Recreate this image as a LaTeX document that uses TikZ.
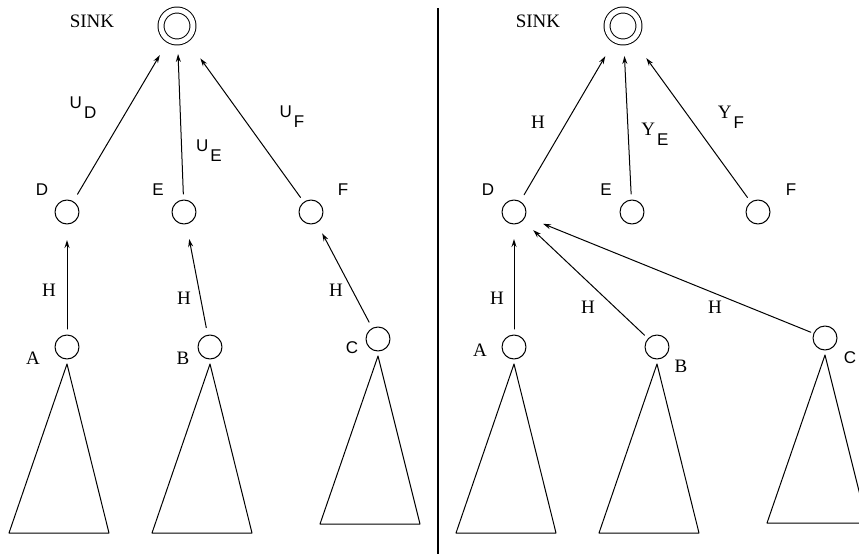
\documentclass[tikz,border=0pt]{standalone}
\usepackage{fontspec}
\setmainfont{Liberation Serif}
\setsansfont{Liberation Sans}
\usetikzlibrary{arrows.meta}
\tikzset{
  every picture/.style={line join=round, line cap=round, >={Stealth[open,length=8pt,width=5pt]}},
  vertex/.style={draw, circle, minimum size=24pt, inner sep=0pt, outer sep=0pt, line width=1pt},
  sinknode/.style={draw, circle, double, double distance=5pt, minimum size=32pt, inner sep=0pt, outer sep=0pt, line width=1pt},
  edge/.style={->, line width=1pt},
  tree/.style={line width=1pt},
  rmlabel/.style={inner sep=0pt, font=\fontsize{19}{19}\selectfont},
  sflabel/.style={inner sep=0pt, font=\sffamily\fontsize{17}{17}\selectfont},
}
\newcommand{\low}[1]{\hspace{2pt}\raisebox{-10pt}{\sffamily\fontsize{17}{17}\selectfont #1}}

\begin{document}
\begin{tikzpicture}[x=1pt,y=-1pt]
\useasboundingbox (0,0) rectangle (859,554);

% left tree
\node[sinknode] (sinkL) at (177,26) {};
\node[vertex] (dL) at (67,212) {};
\node[vertex] (eL) at (184,212) {};
\node[vertex] (fL) at (311,212) {};
\node[vertex] (aL) at (67,347) {};
\node[vertex] (bL) at (210,347) {};
\node[vertex] (cL) at (378,339) {};

\node[rmlabel] (sinkLlab) at (92,21) {SINK};
\node[sflabel] (dLlab) at (42,190) {D};
\node[sflabel] (eLlab) at (158,190) {E};
\node[sflabel] (fLlab) at (343,190) {F};
\node[rmlabel] (aLlab) at (33,358) {A};
\node[rmlabel] (bLlab) at (183,358) {B};
\node[sflabel] (cLlab) at (352,348) {C};

\draw[edge, shorten <=8.6pt, shorten >=17.8pt] (dL) -- (sinkL);
\draw[edge, shorten <=6pt, shorten >=12pt] (eL) -- (sinkL);
\draw[edge, shorten <=6pt, shorten >=24pt] (fL) -- (sinkL);
\draw[edge, shorten <=6pt, shorten >=16pt] (aL) -- (dL);
\draw[edge, shorten <=7.7pt, shorten >=15.5pt] (bL) -- (eL);
\draw[edge, shorten <=7pt, shorten >=12pt] (cL) -- (fL);

\node[sflabel] (udL) at (83,108) {U\low{D}};
\node[sflabel] (ueL) at (209,151) {U\low{E}};
\node[sflabel] (ufL) at (292,117) {U\low{F}};
\node[rmlabel] (hadL) at (49,290) {H};
\node[rmlabel] (hbeL) at (184,298) {H};
\node[rmlabel] (hcfL) at (336,290) {H};

\draw[tree] ([yshift=-17pt]aL.center) -- ++(-58,169) -- ++(100,0) -- cycle;
\draw[tree] ([yshift=-17pt]bL.center) -- ++(-58,169) -- ++(100,0) -- cycle;
\draw[tree] ([yshift=-17pt]cL.center) -- ++(-58,168) -- ++(100,0) -- cycle;

% divider
\draw[line width=2pt, line cap=butt] (438,8) -- (438,554);

% right tree
\node[sinknode] (sinkR) at (623,26) {};
\node[vertex] (dR) at (514,212) {};
\node[vertex] (eR) at (632,212) {};
\node[vertex] (fR) at (758,212) {};
\node[vertex] (aR) at (514,347) {};
\node[vertex] (bR) at (657,347) {};
\node[vertex] (cR) at (825,338) {};

\node[rmlabel] (sinkRlab) at (538,21) {SINK};
\node[sflabel] (dRlab) at (488,190) {D};
\node[sflabel] (eRlab) at (606,190) {E};
\node[sflabel] (fRlab) at (791,190) {F};
\node[rmlabel] (aRlab) at (480,350) {A};
\node[rmlabel] (bRlab) at (681,366) {B};
\node[sflabel] (cRlab) at (850,358) {C};

\draw[edge, shorten <=8pt, shorten >=19pt] (dR) -- (sinkR);
\draw[edge, shorten <=6pt, shorten >=14pt] (eR) -- (sinkR);
\draw[edge, shorten <=6pt, shorten >=23.6pt] (fR) -- (sinkR);
\draw[edge, shorten <=6pt, shorten >=15pt] (aR) -- (dR);
\draw[edge, shorten <=5.2pt, shorten >=14.4pt] (bR) -- (dR);
\draw[edge, shorten <=3.3pt, shorten >=19.3pt] (cR) -- (dR);

\node[rmlabel] (hdR) at (538,122) {H};
\node[rmlabel] (yeR) at (655,134) {Y\low{E}};
\node[rmlabel] (yfR) at (731,117) {Y\low{F}};
\node[rmlabel] (hadR) at (497,298) {H};
\node[rmlabel] (hbdR) at (588,307) {H};
\node[rmlabel] (hcdR) at (715,307) {H};

\draw[tree] ([yshift=-17pt]aR.center) -- ++(-58,169) -- ++(100,0) -- cycle;
\draw[tree] ([yshift=-17pt]bR.center) -- ++(-58,169) -- ++(100,0) -- cycle;
\draw[tree] ([yshift=-17pt]cR.center) -- ++(-58,168) -- ++(100,0) -- cycle;
\end{tikzpicture}
\end{document}
